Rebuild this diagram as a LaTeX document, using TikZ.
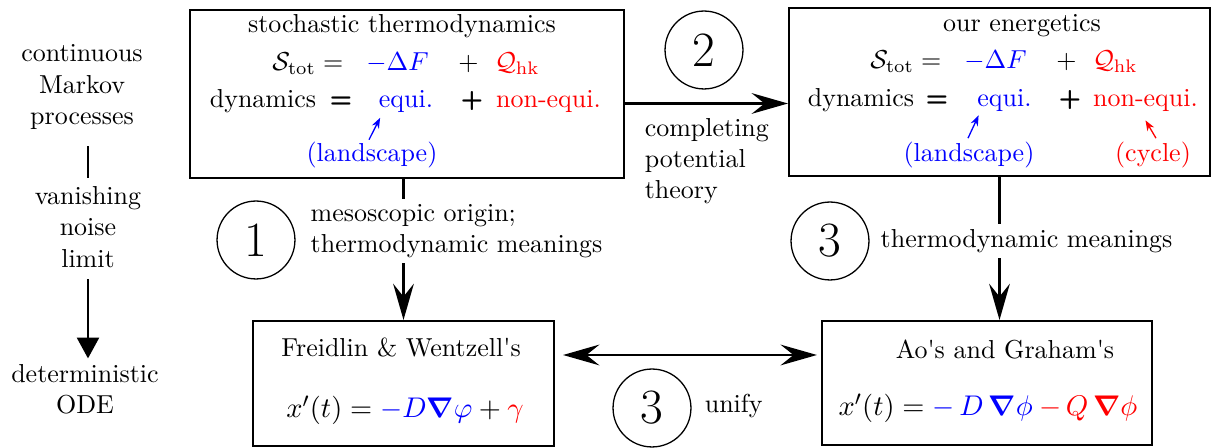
\documentclass[tikz,border=0pt]{standalone}
\usepackage{amsmath,amssymb,xcolor}
\usetikzlibrary{arrows.meta,positioning,calc}
\definecolor{eqblue}{RGB}{0,0,255}
\definecolor{neqred}{RGB}{255,0,0}

\begin{document}
\begin{tikzpicture}[x=0.385pt,y=-0.385pt,
    every node/.style={inner sep=0.5pt},
    box/.style={draw,line width=0.8pt},
    num/.style={draw,circle,line width=0.5pt,minimum size=30pt,inner sep=0pt,font=\fontsize{19}{20}\selectfont},
    lbl/.style={align=left,inner sep=2pt,fill=white},
    eqn/.style={anchor=base,font=\fontsize{11.2}{13}\selectfont},
    arr/.style={line width=0.8pt,-{Stealth[length=14pt,width=8pt,inset=5pt]}},
    dblarr/.style={line width=0.8pt,{Stealth[length=14pt,width=8pt,inset=5pt]}-{Stealth[length=14pt,width=8pt,inset=5pt]}},
    pointer/.style={line width=0.5pt,-{Stealth[length=4pt,width=3pt]}}]
  \useasboundingbox (0,0) rectangle (1222,448);
  % Left column
  \node[align=center] (markov) at (82,87) {continuous\\Markov\\processes};
  \node[align=center] (noise) at (88,227) {vanishing\\noise\\limit};
  \node[align=center] (ode) at (85,389) {deterministic\\ODE};
  \draw[line width=0.8pt,shorten <=5.8pt,shorten >=2.7pt] (noise.north |- markov.south) -- (noise.north);
  \draw[line width=0.8pt,-{Triangle[length=8pt,width=8.5pt]},shorten <=3.9pt,shorten >=1.5pt] (noise.south) -- (noise.south |- ode.north);
  % Boxes
  \node[box,minimum width=167.1pt,minimum height=64.7pt] (stoch) at (407,94) {};
  \node[box,minimum width=162.1pt,minimum height=64.7pt] (ener) at (999.5,92) {};
  \node[box,minimum width=115.9pt,minimum height=48.1pt] (frei) at (403.5,383.5) {};
  \node[box,minimum width=127.1pt,minimum height=47.7pt] (ao) at (987,383) {};
  % Stochastic thermodynamics
  \node[anchor=base] (stochtitle) at (402,32.5) {stochastic thermodynamics};
  \node[anchor=base] (stot1) at (406,71) {$\mathcal{S}_{\mathrm{tot}}={}$\hspace{6.1pt}{\color{eqblue}$-\Delta F$}\hspace{11.5pt}$+$\hspace{6.2pt}{\color{neqred}$\mathcal{Q}_{\mathrm{hk}}$}};
  \node[anchor=base] (dyn1) at (263,108) {dynamics};
  \node[anchor=base] (eqs1) at (341,108) {\textsf{\textbf{=}}};
  \node[anchor=base,eqblue] (equi1) at (406,108) {equi.};
  \node[anchor=base] (plus1) at (472,108) {\textsf{\textbf{+}}};
  \node[anchor=base,neqred] (neq1) at (548.5,108) {non-equi.};
  \node[anchor=base,eqblue] (land1) at (372,162) {(landscape)};
  \draw[pointer,eqblue] ($(land1.north)+(-3,-1)$) -- ($(equi1.south west)+(3,3)$);
  % Our energetics
  \node[anchor=base] (enertitle) at (1022,31.5) {our energetics};
  \node[anchor=base] (stot2) at (1004,69) {$\mathcal{S}_{\mathrm{tot}}={}$\hspace{6.1pt}{\color{eqblue}$-\Delta F$}\hspace{11.5pt}$+$\hspace{6.2pt}{\color{neqred}$\mathcal{Q}_{\mathrm{hk}}$}};
  \node[anchor=base] (dyn2) at (861,106.5) {dynamics};
  \node[anchor=base] (eqs2) at (937,106.5) {\textsf{\textbf{=}}};
  \node[anchor=base,eqblue] (equi2) at (1004.5,106.5) {equi.};
  \node[anchor=base] (plus2) at (1070,106.5) {\textsf{\textbf{+}}};
  \node[anchor=base,neqred] (neq2) at (1145.5,106.5) {non-equi.};
  \node[anchor=base,eqblue] (land2) at (969,161.5) {(landscape)};
  \node[anchor=base,neqred] (cycle) at (1153,161.5) {(cycle)};
  \draw[pointer,eqblue] ($(land2.north)+(-1,-2)$) -- ($(equi2.south west)+(3,2)$);
  \draw[pointer,neqred] ($(cycle.north)+(3,-2)$) -- ($(neq2.south)+(0,7)$);
  % Bottom boxes
  \node[anchor=base] (freititle) at (401,356.5) {Freidlin \& Wentzell\textquotesingle s};
  \node[eqn] (freieq) at (405,418) {$x'(t)={\color{eqblue}-D\boldsymbol{\nabla}\varphi}+{\color{neqred}\gamma}$};
  \node[anchor=base] (aotitle) at (1005,359) {Ao\textquotesingle s and Graham\textquotesingle s};
  \node[eqn] (aoeq) at (988,416) {$x'(t)={\color{eqblue}-\,D\,\boldsymbol{\nabla}\phi}\:{\color{neqred}-\,Q\,\boldsymbol{\nabla}\phi}$};
  % Connectors
  \draw[arr] ($(stoch.east)+(0,9.5)$) -- ($(ener.west)+(0,11.5)$);
  \draw[arr] (frei.north |- stoch.south) -- (frei.north);
  \draw[arr] (ener.south) -- (ener.south |- ao.north);
  \draw[dblarr] ($(frei.east)+(8,-28.5)$) -- ($(ao.west)+(-4,-28)$);
  % Labels
  \node[lbl,anchor=west] (meso) at (305,231) {mesoscopic origin;\\thermodynamic meanings};
  \node[lbl,anchor=west] (thermo) at (875,241) {thermodynamic meanings};
  \node[align=left,anchor=west] (complete) at (643,161) {completing\\potential\\theory};
  \node[anchor=west] (unify) at (703,406) {unify};
  % Steps
  \node[num] (one) at (256,240) {1};
  \node[num] (two) at (704,50) {2};
  \node[num] (threea) at (830,241) {3};
  \node[num] (threeb) at (652,408) {3};
\end{tikzpicture}
\end{document}
